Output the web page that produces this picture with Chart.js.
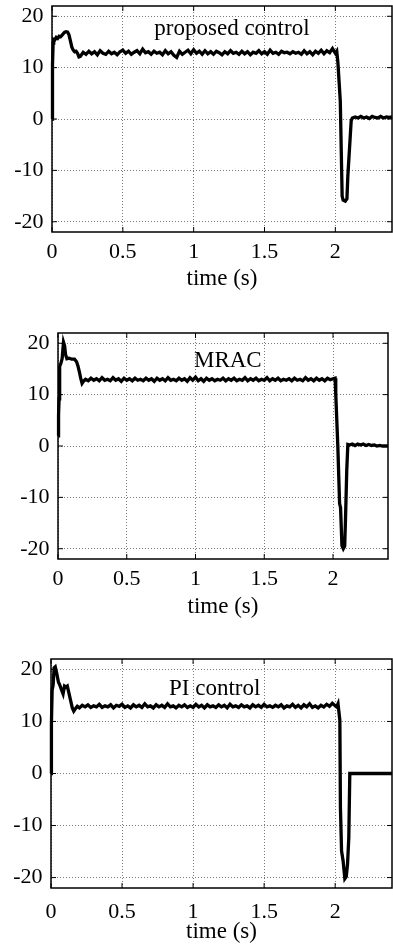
<!DOCTYPE html>
<html>
<head>
<meta charset="utf-8">
<title>Current response</title>
<script src="https://cdn.jsdelivr.net/npm/chart.js@4.4.0/dist/chart.umd.min.js"></script>
<style>
  html, body { margin: 0; padding: 0; background: #fff; }
  body { width: 393px; height: 947px; position: relative; overflow: hidden; }
  .panel { position: absolute; left: 0; width: 393px; }
  .panel canvas { display: block; }
</style>
</head>
<body>
<div class="panel" style="top:0;height:300px"><canvas id="chart-proposed" width="393" height="300"></canvas></div>
<div class="panel" style="top:300px;height:325px"><canvas id="chart-mrac" width="393" height="325"></canvas></div>
<div class="panel" style="top:625px;height:322px"><canvas id="chart-pi" width="393" height="322"></canvas></div>
<script>
// axis ticks shared by all three panels
const xTicks = [0, 0.5, 1, 1.5, 2];
const xTickLabels = ['0', '0.5', '1', '1.5', '2'];
const yTicks = [-20, -10, 0, 10, 20];
const yTickLabels = ['-20', '-10', '0', '10', '20'];
const panelTitles = ['proposed control', 'MRAC', 'PI control'];
const xAxisTitle = 'time (s)';

// sample times of the steady part (0.2 s .. 1.98 s)
const steadyTime = [
  0.20, 0.22, 0.24, 0.26, 0.28, 0.30, 0.32, 0.34, 0.36, 0.38,
  0.40, 0.42, 0.44, 0.46, 0.48, 0.50, 0.52, 0.54, 0.56, 0.58,
  0.60, 0.62, 0.64, 0.66, 0.68, 0.70, 0.72, 0.74, 0.76, 0.78,
  0.80, 0.82, 0.84, 0.86, 0.88, 0.90, 0.92, 0.94, 0.96, 0.98,
  1.00, 1.02, 1.04, 1.06, 1.08, 1.10, 1.12, 1.14, 1.16, 1.18,
  1.20, 1.22, 1.24, 1.26, 1.28, 1.30, 1.32, 1.34, 1.36, 1.38,
  1.40, 1.42, 1.44, 1.46, 1.48, 1.50, 1.52, 1.54, 1.56, 1.58,
  1.60, 1.62, 1.64, 1.66, 1.68, 1.70, 1.72, 1.74, 1.76, 1.78,
  1.80, 1.82, 1.84, 1.86, 1.88, 1.90, 1.92, 1.94, 1.96, 1.98
];

// proposed control
const proposedTime = [
  0, 0.002, 0.005, 0.008, 0.012, 0.02, 0.03, 0.04, 0.05, 0.06,
  0.07, 0.08, 0.09, 0.10, 0.11, 0.12, 0.13, 0.14, 0.15, 0.16,
  0.17, 0.18, 0.19,
  ...steadyTime,
  2.00, 2.01, 2.018, 2.035, 2.048, 2.055, 2.07, 2.082, 2.088, 2.105, 2.112, 2.12,
  2.14, 2.16, 2.18, 2.20, 2.22, 2.24, 2.26, 2.28, 2.30, 2.32, 2.34, 2.36, 2.38, 2.40
];
const proposedCurrent = [
  0, 5.6, 10.5, 14.8, 15.5, 15.4, 15.9, 15.7, 16.1, 16.0,
  16.3, 16.6, 16.9, 17.0, 16.9, 16.4, 15.2, 14.0, 13.4, 13.1,
  13.2, 12.8, 12.1,
  12.2, 13.0, 12.6, 13.2, 12.7, 13.1, 12.5, 13.3, 12.8, 12.6,
  13.2, 12.7, 13.0, 12.5, 13.1, 13.4, 12.8, 13.2, 12.6, 13.0,
  13.3, 12.7, 13.6, 12.9, 13.1, 12.6, 13.2, 12.8, 13.0, 12.5,
  13.3, 12.7, 13.1, 12.4, 12.0, 13.2, 12.6, 13.0, 13.4, 12.7,
  13.5, 12.8, 13.2, 12.6, 13.3, 12.7, 13.1, 12.6, 13.2, 12.9,
  12.5, 13.1, 12.7, 13.3, 12.8, 13.0, 12.6, 13.2, 12.7, 13.1,
  12.5, 13.0, 12.8, 13.3, 12.7, 13.1, 12.6, 13.4, 12.8, 13.0,
  12.6, 13.2, 12.9, 13.0, 12.7, 13.1, 12.8, 13.0, 12.6, 13.3,
  12.7, 13.1, 12.5, 13.2, 12.8, 13.4, 12.7, 13.3, 12.9, 13.7,
  12.8, 13.2, 11.0, 3.5, -15.0, -15.8, -16.0, -15.5, -11.2, -3.5, -0.3, 0.2,
  0.4, 0.2, 0.5, 0.2, 0.4, 0.1, 0.5, 0.3, 0.2, 0.5, 0.2, 0.4, 0.3, 0.4
];

// MRAC
const mracTime = [
  0, 0.004, 0.008, 0.012, 0.02, 0.03, 0.04, 0.048, 0.055, 0.065,
  0.08, 0.10, 0.12, 0.135, 0.145, 0.155, 0.165, 0.175, 0.185,
  ...steadyTime,
  2.00, 2.015, 2.02, 2.035, 2.048, 2.055, 2.065, 2.075, 2.085, 2.09, 2.10, 2.108, 2.12,
  2.14, 2.16, 2.18, 2.20, 2.22, 2.24, 2.26, 2.28, 2.30, 2.32, 2.34, 2.36, 2.38, 2.40
];
const mracCurrent = [
  2.0, 6.0, 9.2, 15.5, 16.0, 17.0, 20.2, 19.5, 17.8, 17.0,
  17.1, 16.9, 16.9, 16.4, 15.6, 14.5, 13.2, 12.2, 12.6,
  13.0, 12.7, 13.2, 12.8, 13.1, 12.7, 13.3, 12.8, 13.0, 12.7,
  13.3, 12.8, 13.1, 12.6, 13.2, 12.8, 13.1, 12.7, 13.2, 12.8,
  13.0, 12.7, 13.2, 12.8, 13.1, 12.6, 13.2, 12.8, 13.1, 12.7,
  13.3, 12.8, 13.0, 12.7, 13.2, 12.8, 13.1, 12.6, 13.3, 12.8,
  13.4, 12.7, 13.1, 12.6, 13.2, 12.8, 13.1, 12.7, 13.0, 12.8,
  13.2, 12.7, 13.1, 12.8, 13.2, 12.7, 13.0, 12.8, 13.3, 12.7,
  13.1, 12.8, 13.2, 12.7, 13.0, 12.8, 13.3, 12.7, 13.1, 12.8,
  13.2, 12.7, 13.0, 12.8, 13.1, 12.7, 13.2, 12.8, 13.0, 12.7,
  13.3, 12.8, 13.1, 12.7, 13.2, 12.8, 13.1, 12.7, 13.2, 12.9,
  13.1, 13.2, 10.2, 0, -11.2, -12.0, -19.4, -20.0, -19.5, -15.1, -4.8, 0.3, 0.2,
  0.4, 0.1, 0.4, 0.2, 0.4, 0.1, 0.3, 0.1, 0.2, 0.0, 0.1, 0.0, 0.0, 0.0
];

// PI control
const piTime = [
  0, 0.003, 0.008, 0.015, 0.022, 0.03, 0.04, 0.052, 0.062, 0.075,
  0.085, 0.095, 0.105, 0.115, 0.125, 0.135, 0.15, 0.16, 0.17, 0.185,
  ...steadyTime,
  2.00, 2.01, 2.02, 2.033, 2.037, 2.045, 2.056, 2.068, 2.078, 2.087, 2.096, 2.103,
  2.40
];
const piCurrent = [
  0, 9.6, 16.0, 17.0, 20.3, 20.5, 19.3, 17.6, 17.0, 16.0,
  15.3, 16.8, 16.6, 16.8, 15.6, 14.4, 12.6, 12.0, 12.4, 12.9,
  12.6, 13.1, 12.8, 13.2, 12.7, 13.0, 12.8, 13.3, 12.7, 13.0,
  12.8, 13.2, 12.6, 13.1, 12.9, 13.3, 12.7, 13.0, 12.6, 13.2,
  12.8, 13.1, 12.7, 13.4, 12.8, 13.0, 12.6, 13.2, 12.8, 13.1,
  12.7, 13.4, 12.8, 13.0, 12.6, 13.1, 12.8, 13.2, 12.7, 13.0,
  12.7, 13.3, 12.8, 13.1, 12.6, 13.2, 12.8, 13.0, 12.7, 13.2,
  12.8, 13.1, 12.6, 13.3, 12.8, 13.0, 12.7, 13.2, 12.8, 13.0,
  12.6, 13.2, 12.8, 13.1, 12.7, 13.3, 12.8, 13.0, 12.7, 13.1,
  12.8, 13.2, 12.6, 13.0, 12.8, 13.3, 12.7, 13.1, 12.6, 13.2,
  12.8, 13.4, 12.7, 13.0, 12.6, 13.1, 12.8, 13.3, 12.9, 13.5,
  13.0, 12.8, 13.4, 10.2, -6.5, -14.9, -16.8, -20.2, -19.8, -17.4, -12.3, 0,
  0
];

const FONT = '"Liberation Serif", "Times New Roman", Times, serif';

// black box + inward ticks on all four sides, and the panel caption
const framePlugin = {
  id: 'frame',
  afterDatasetsDraw(chart, args, opts) {
    const { ctx, chartArea: a, scales: { x, y } } = chart;
    ctx.save();
    ctx.strokeStyle = '#000';
    ctx.lineWidth = 1.5;
    ctx.strokeRect(a.left, a.top, a.right - a.left, a.bottom - a.top);
    ctx.lineWidth = 1;
    ctx.beginPath();
    x.ticks.forEach(t => {
      const px = x.getPixelForValue(t.value);
      ctx.moveTo(px, a.bottom); ctx.lineTo(px, a.bottom - 5);
      ctx.moveTo(px, a.top); ctx.lineTo(px, a.top + 5);
    });
    y.ticks.forEach(t => {
      const py = y.getPixelForValue(t.value);
      ctx.moveTo(a.left, py); ctx.lineTo(a.left + 5, py);
      ctx.moveTo(a.right, py); ctx.lineTo(a.right - 5, py);
    });
    ctx.stroke();

    ctx.font = '23px ' + FONT;
    ctx.fillStyle = '#000';
    ctx.textAlign = 'center';
    ctx.textBaseline = 'alphabetic';
    ctx.fillText(opts.text, x.getPixelForValue(opts.x), y.getPixelForValue(opts.y));
    ctx.restore();
  }
};

function buildPanel(id, time, values, cfg) {
  const points = time.map((t, i) => ({ x: t, y: values[i] }));
  return new Chart(document.getElementById(id), {
    type: 'line',
    data: {
      datasets: [{
        data: points,
        borderColor: '#000',
        borderWidth: 3.3,
        pointRadius: 0,
        tension: 0,
        fill: false,
        clip: false
      }]
    },
    options: {
      responsive: false,
      animation: false,
      events: [],
      layout: { autoPadding: false, padding: { top: cfg.padTop, right: cfg.padRight, left: 0, bottom: 0 } },
      plugins: {
        legend: { display: false },
        tooltip: { enabled: false },
        frame: { text: cfg.title, x: cfg.titleX, y: cfg.titleY }
      },
      scales: {
        x: {
          type: 'linear',
          min: 0,
          max: 2.4,
          afterBuildTicks: s => { s.ticks = xTicks.map(v => ({ value: v })); },
          afterFit: s => { s.height = cfg.xAxisHeight; s.paddingLeft = 0; s.paddingRight = 0; },
          grid: { color: '#7a7a7a', lineWidth: 1, drawTicks: false },
          border: { display: false, dash: [1, 2] },
          ticks: {
            color: '#000',
            font: { family: FONT, size: 22 },
            padding: cfg.tickPad,
            maxRotation: 0,
            autoSkip: false,
            callback: (v, i) => xTickLabels[i]
          },
          title: {
            display: true,
            text: xAxisTitle,
            color: '#000',
            font: { family: FONT, size: 23 },
            padding: { top: 0, bottom: cfg.titlePad }
          }
        },
        y: {
          type: 'linear',
          min: -22,
          max: 22,
          afterBuildTicks: s => { s.ticks = yTicks.map(v => ({ value: v })); },
          afterFit: s => { s.width = cfg.yAxisWidth; s.paddingTop = 0; s.paddingBottom = 0; },
          grid: { color: '#7a7a7a', lineWidth: 1, drawTicks: false },
          border: { display: false, dash: [1, 2] },
          ticks: {
            color: '#000',
            font: { family: FONT, size: 22 },
            padding: 8.5,
            autoSkip: false,
            callback: (v, i) => yTickLabels[i]
          }
        }
      }
    },
    plugins: [framePlugin]
  });
}

buildPanel('chart-proposed', proposedTime, proposedCurrent, {
  padTop: 6, padRight: 1, yAxisWidth: 52, xAxisHeight: 68, tickPad: 7, titlePad: 7,
  title: panelTitles[0], titleX: 1.27, titleY: 16.3
});
buildPanel('chart-mrac', mracTime, mracCurrent, {
  padTop: 33, padRight: 5, yAxisWidth: 58, xAxisHeight: 66, tickPad: 7, titlePad: 4,
  title: panelTitles[1], titleX: 1.235, titleY: 15.3
});
buildPanel('chart-pi', piTime, piCurrent, {
  padTop: 34, padRight: 1, yAxisWidth: 51, xAxisHeight: 59, tickPad: 11.5, titlePad: 1,
  title: panelTitles[2], titleX: 1.152, titleY: 15.0
});
</script>
</body>
</html>
